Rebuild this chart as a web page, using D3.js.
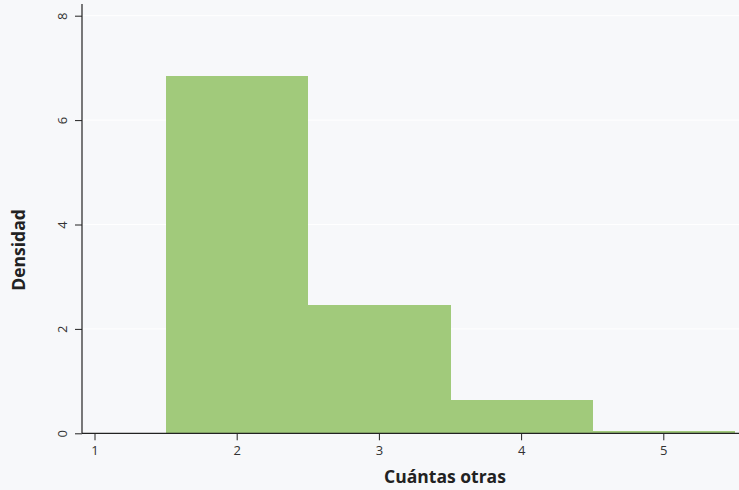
<!DOCTYPE html>
<html>
<head>
<meta charset="utf-8">
<script src="https://cdn.jsdelivr.net/npm/d3@7"></script>
<style>
  html, body { margin: 0; padding: 0; background: #f7f8fa; }
  svg { display: block; }
</style>
</head>
<body>
<svg id="chart" width="739" height="490"></svg>
<script>
// Histogram bins: left edge, right edge, density
const binStarts = [1.5, 2.5, 3.5, 4.5];
const binEnds   = [2.5, 3.5, 4.5, 5.5];
const densities = [6.84, 2.46, 0.64, 0.044];

const xTicks = [1, 2, 3, 4, 5];
const yTicks = [0, 2, 4, 6, 8];

const xTitle = "Cuántas otras";
const yTitle = "Densidad";

const width = 739, height = 490;
const plotLeft = 82, plotRight = 739, plotBottom = 433.3;

const svg = d3.select("#chart");
svg.append("rect").attr("width", width).attr("height", height).attr("fill", "#f7f8fa");

const x = d3.scaleLinear().domain([1, 5]).range([94.5, 663.3]);
const y = d3.scaleLinear().domain([0, 8]).range([plotBottom, 15.7]);

// horizontal gridlines
svg.append("g")
  .selectAll("line")
  .data(yTicks.filter(d => d > 0))
  .join("line")
  .attr("x1", plotLeft).attr("x2", plotRight)
  .attr("y1", d => y(d)).attr("y2", d => y(d))
  .attr("stroke", "#ffffff").attr("stroke-width", 1);

// bars
svg.append("g")
  .attr("shape-rendering", "crispEdges")
  .selectAll("rect")
  .data(densities.map((v, i) => ({ x0: binStarts[i], x1: binEnds[i], v })))
  .join("rect")
  .attr("x", d => x(d.x0))
  .attr("width", d => x(d.x1) - x(d.x0) + 0.5)
  .attr("y", d => y(d.v))
  .attr("height", d => y(0) - y(d.v))
  .attr("fill", "#a1ca7b");

const font = "'Open Sans', 'Noto Sans', sans-serif";

// x axis
const xAxis = d3.axisBottom(x).tickValues(xTicks).tickSize(7).tickPadding(5).tickFormat(d3.format("d"));
const gx = svg.append("g").attr("transform", `translate(0,${plotBottom})`).call(xAxis);
gx.select(".domain").remove();
gx.append("line").attr("x1", plotLeft).attr("x2", plotRight).attr("y1", 0).attr("y2", 0)
  .attr("stroke", "#222").attr("stroke-width", 1.2);
gx.selectAll(".tick line").attr("stroke", "#222");
gx.selectAll(".tick text").attr("fill", "#333").style("font-family", font).style("font-size", "13px");

// y axis
const yAxis = d3.axisLeft(y).tickValues(yTicks).tickSize(7).tickPadding(0).tickFormat(d3.format("d"));
const gy = svg.append("g").attr("transform", `translate(${plotLeft},0)`).call(yAxis);
gy.select(".domain").remove();
gy.append("line").attr("x1", 0).attr("x2", 0).attr("y1", 4).attr("y2", plotBottom)
  .attr("stroke", "#222").attr("stroke-width", 1.2);
gy.selectAll(".tick line").attr("stroke", "#222");
gy.selectAll(".tick text")
  .attr("x", 0).attr("dy", null)
  .attr("transform", "translate(-20,0) rotate(-90)")
  .attr("text-anchor", "middle")
  .attr("dominant-baseline", "central")
  .attr("fill", "#333").style("font-family", font).style("font-size", "13px");

// axis titles
svg.append("text")
  .attr("x", 445).attr("y", 483)
  .attr("text-anchor", "middle")
  .style("font-family", font).style("font-size", "17.5px").style("font-weight", "bold")
  .attr("fill", "#222")
  .text(xTitle);

svg.append("text")
  .attr("transform", "translate(25,250) rotate(-90)")
  .attr("text-anchor", "middle")
  .style("font-family", font).style("font-size", "17.5px").style("font-weight", "bold")
  .attr("fill", "#222")
  .text(yTitle);
</script>
</body>
</html>
